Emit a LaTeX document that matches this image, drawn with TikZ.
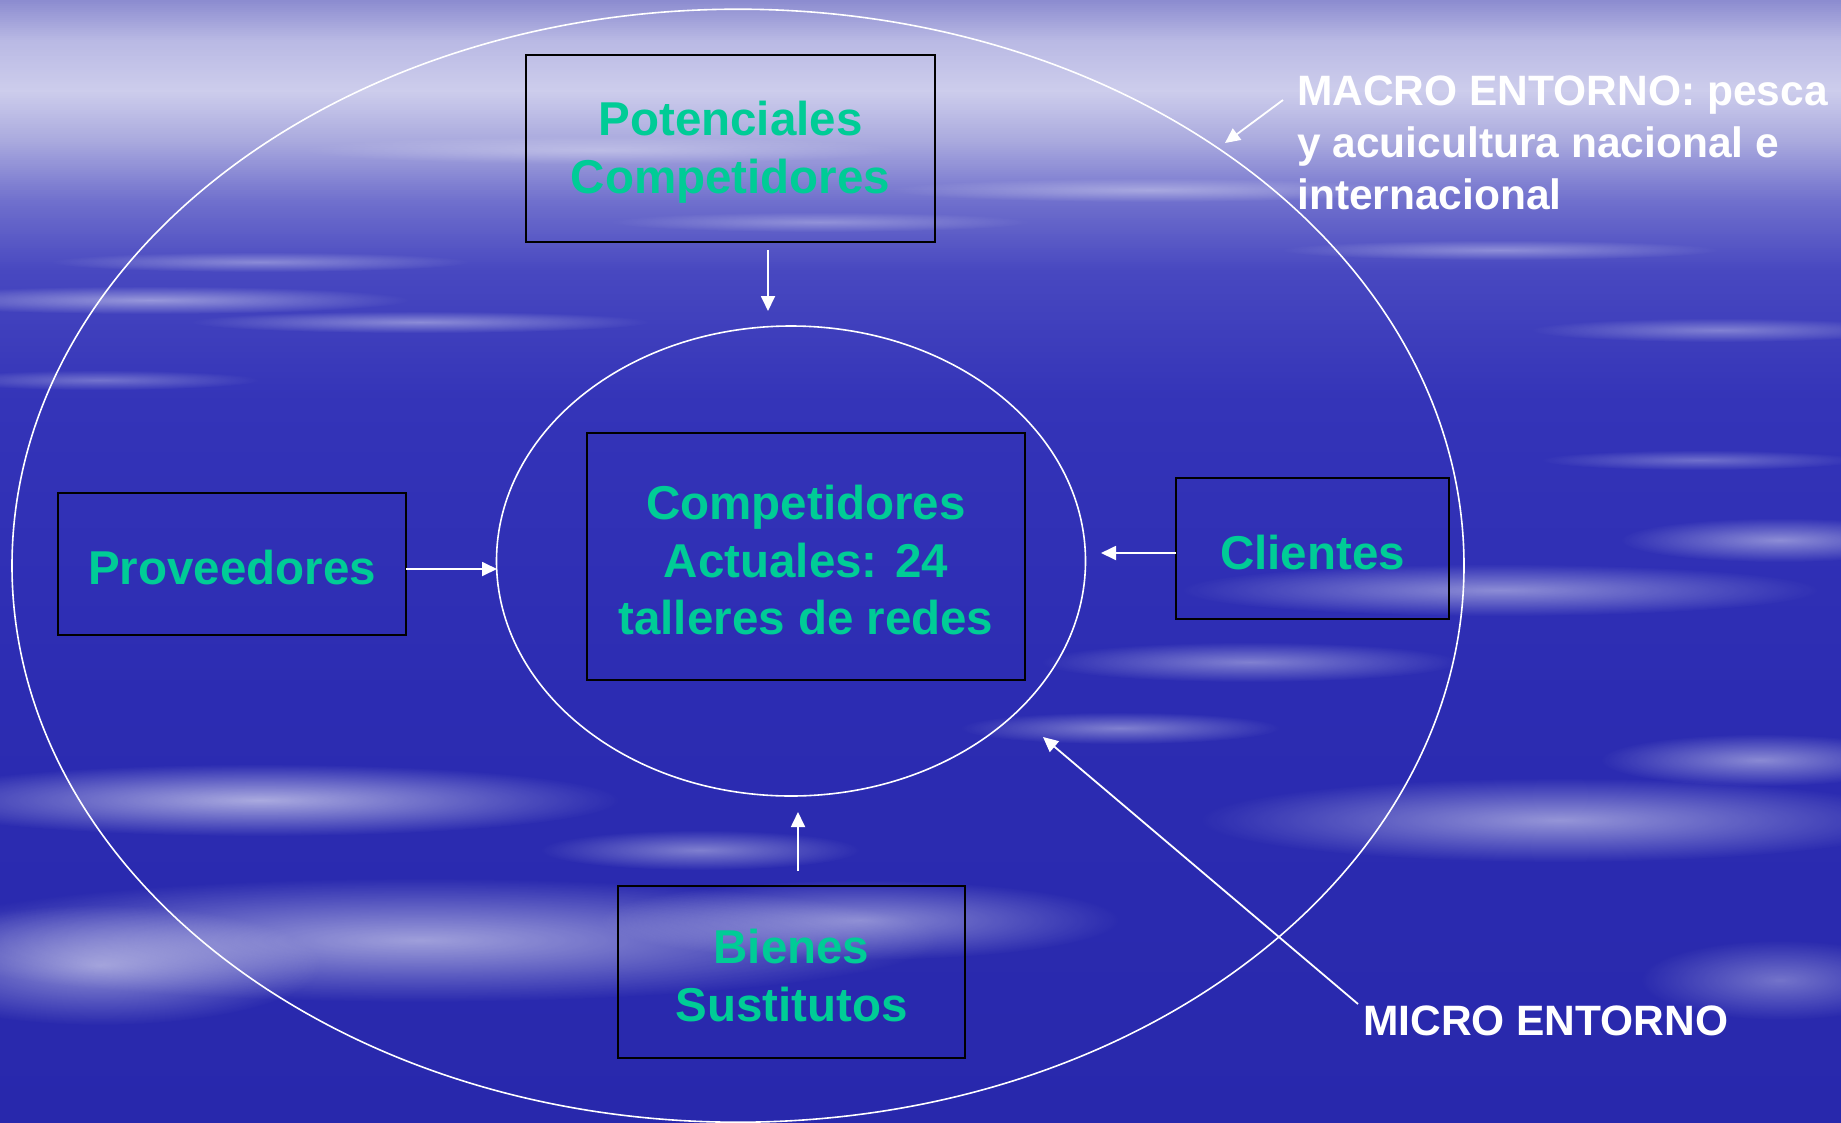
\documentclass[tikz,border=0pt]{standalone}
\usepackage{fontspec}
\setmainfont{Liberation Sans}
\usetikzlibrary{arrows.meta,shapes.geometric,fadings}
\tikzfading[name=cloudfade, inner color=transparent!0, outer color=transparent!100]
\definecolor{txtgreen}{RGB}{0,204,150}
\definecolor{bgA}{RGB}{140,140,208}
\definecolor{bgB}{RGB}{185,185,228}
\definecolor{bgC}{RGB}{205,205,236}
\definecolor{bgD}{RGB}{170,170,222}
\definecolor{bgE}{RGB}{112,112,205}
\definecolor{bgF}{RGB}{72,72,192}
\definecolor{bgG}{RGB}{52,52,184}
\definecolor{bgH}{RGB}{44,44,178}
\definecolor{bgI}{RGB}{40,40,172}
\newcommand{\bgseg}[4]{%
  \pgfmathtruncatemacro\nn{(#2-#1)/2}%
  \foreach \i in {0,...,\nn}{%
    \pgfmathsetmacro\yy{#1+2*\i}%
    \pgfmathtruncatemacro\pp{100-(\i/\nn)*100}%
    \fill[#3!\pp!#4] (0,\yy) rectangle (1841,\yy+2.6);}}
\newcommand{\mycloud}[5]{%
  \fill[white,opacity=#5,path fading=cloudfade] (#1,#2) ellipse [x radius=#3, y radius=#4];}
\newcommand{\tstrut}{\rule{0pt}{41.5pt}}
\tikzset{
  box/.style={draw=black,line width=2pt,inner sep=0pt,align=center,
    text=txtgreen,font=\fontsize{47.5}{57.5}\selectfont\bfseries},
  ring/.style={draw=white,line width=1.6pt,ellipse,inner sep=0pt},
  arr/.style={draw=white,line width=1.8pt,-{Triangle[length=15pt,width=14pt]}},
  lbl/.style={text=white,inner sep=0pt,align=left,font=\fontsize{42.5}{52}\selectfont\bfseries}
}
\begin{document}
\begin{tikzpicture}[x=1pt,y=-1pt]
\useasboundingbox (0,0) rectangle (1841,1122);
% sky background
\bgseg{0}{40}{bgA}{bgB}
\bgseg{40}{90}{bgB}{bgC}
\bgseg{90}{140}{bgC}{bgD}
\bgseg{140}{200}{bgD}{bgE}
\bgseg{200}{270}{bgE}{bgF}
\bgseg{270}{400}{bgF}{bgG}
\bgseg{400}{700}{bgG}{bgH}
\bgseg{700}{1122}{bgH}{bgI}
% cloud streaks
\mycloud{150}{300}{260}{14}{0.45}
\mycloud{420}{322}{230}{11}{0.4}
\mycloud{260}{262}{210}{10}{0.35}
\mycloud{1150}{190}{260}{12}{0.35}
\mycloud{1500}{250}{220}{10}{0.35}
\mycloud{1720}{330}{190}{12}{0.35}
\mycloud{820}{222}{210}{10}{0.3}
\mycloud{100}{380}{160}{10}{0.3}
\mycloud{600}{150}{300}{14}{0.3}
\mycloud{1500}{590}{320}{26}{0.45}
\mycloud{1780}{540}{160}{22}{0.45}
\mycloud{1250}{662}{210}{20}{0.4}
\mycloud{1700}{460}{160}{10}{0.3}
\mycloud{260}{800}{360}{36}{0.6}
\mycloud{420}{940}{520}{62}{0.55}
\mycloud{100}{965}{220}{60}{0.5}
\mycloud{860}{920}{260}{40}{0.45}
\mycloud{1120}{728}{160}{16}{0.4}
\mycloud{1560}{820}{360}{42}{0.5}
\mycloud{1760}{760}{160}{26}{0.45}
\mycloud{700}{850}{160}{20}{0.4}
\mycloud{1780}{980}{140}{40}{0.35}
% environment ellipses
\node[ring,minimum width=1452pt,minimum height=1113pt] (outer) at (738,565.7) {};
\node[ring,minimum width=589pt,minimum height=470pt] (inner) at (791,561) {};
% boxes
\node[box,minimum width=409pt,minimum height=187pt] (pot) at (730.5,148.5) {\tstrut Potenciales\\Competidores};
\node[box,minimum width=438pt,minimum height=247pt] (act) at (806,556.5) {\tstrut Competidores\\Actuales: 24\\talleres de redes};
\node[box,minimum width=348pt,minimum height=142pt] (prov) at (232,564) {\tstrut Proveedores};
\node[box,minimum width=273pt,minimum height=141pt] (cli) at (1312.5,548.5) {\tstrut Clientes};
\node[box,minimum width=347pt,minimum height=172pt] (bien) at (791.5,972) {\tstrut Bienes\\Sustitutos};
% labels
\node[lbl,anchor=north west] (macro) at (1297,76) {MACRO ENTORNO: pesca\\y acuicultura nacional e\\internacional};
\node[lbl,anchor=base west] (micro) at (1363,1035) {MICRO ENTORNO};
% connector end points
\coordinate (potS) at (768,250);
\coordinate (potE) at (768,311);
\coordinate (provS) at (406,569);
\coordinate (provE) at (497,569);
\coordinate (cliS) at (1176,553);
\coordinate (cliE) at (1101,553);
\coordinate (bienS) at (798,871);
\coordinate (bienE) at (798,812);
\coordinate (macroS) at (1283,100);
\coordinate (macroE) at (1225,143);
\coordinate (microS) at (1358,1004);
\coordinate (microE) at (1043,737);
% connectors
\draw[arr] (potS) -- (potE);
\draw[arr] (provS) -- (provE);
\draw[arr] (cliS) -- (cliE);
\draw[arr] (bienS) -- (bienE);
\draw[arr] (macroS) -- (macroE);
\draw[arr] (microS) -- (microE);
\end{tikzpicture}
\end{document}
